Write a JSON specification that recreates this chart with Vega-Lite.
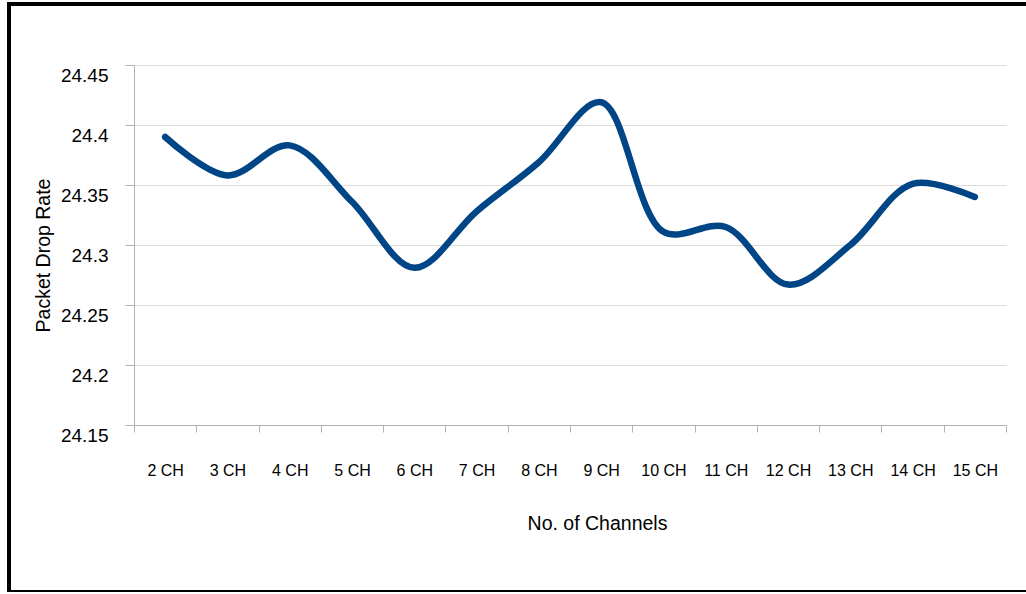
{
  "$schema": "https://vega.github.io/schema/vega-lite/v6.json",
  "autosize": "none",
  "padding": {"left": 9, "top": 4, "right": 0, "bottom": 0},
  "width": 1030,
  "height": 588,
  "background": "white",
  "config": {
    "font": "Liberation Sans",
    "view": {"stroke": "black", "strokeWidth": 4, "fill": "white"},
    "axis": {
      "domainColor": "#b3b3b3",
      "tickColor": "#b3b3b3",
      "gridColor": "#dddddd",
      "labelColor": "black",
      "titleColor": "black",
      "labelFont": "Liberation Sans",
      "titleFont": "Liberation Sans",
      "titleFontWeight": "normal"
    }
  },
  "data": {
    "values": [
      {"channels": "2 CH", "rate": 24.39},
      {"channels": "3 CH", "rate": 24.358},
      {"channels": "4 CH", "rate": 24.383},
      {"channels": "5 CH", "rate": 24.336},
      {"channels": "6 CH", "rate": 24.281},
      {"channels": "7 CH", "rate": 24.328},
      {"channels": "8 CH", "rate": 24.369},
      {"channels": "9 CH", "rate": 24.419},
      {"channels": "10 CH", "rate": 24.311},
      {"channels": "11 CH", "rate": 24.315},
      {"channels": "12 CH", "rate": 24.267},
      {"channels": "13 CH", "rate": 24.3},
      {"channels": "14 CH", "rate": 24.351},
      {"channels": "15 CH", "rate": 24.34}
    ]
  },
  "mark": {
    "type": "line",
    "interpolate": "catmull-rom",
    "color": "#004586",
    "strokeWidth": 6.5,
    "strokeCap": "round",
    "strokeJoin": "round"
  },
  "encoding": {
    "x": {
      "field": "channels",
      "type": "nominal",
      "sort": null,
      "scale": {"type": "band", "paddingInner": 0, "paddingOuter": 0, "range": [125, 997]},
      "axis": {
        "title": "No. of Channels",
        "titleFontSize": 19.5,
        "titleX": 588,
        "titleY": 98.5,
        "titleAlign": "center",
        "titleBaseline": "middle",
        "offset": -167,
        "labelAngle": 0,
        "labelFontSize": 16,
        "labelPadding": 30,
        "tickSize": 7,
        "tickBand": "extent",
        "grid": false,
        "domain": true
      }
    },
    "y": {
      "field": "rate",
      "type": "quantitative",
      "scale": {"domain": [24.15, 24.45], "nice": false, "zero": false, "range": [421, 61]},
      "axis": {
        "title": "Packet Drop Rate",
        "titleFontSize": 19.5,
        "titleX": -91,
        "titleY": 251,
        "titleAngle": 270,
        "titleAlign": "center",
        "titleBaseline": "middle",
        "offset": -125,
        "values": [24.15, 24.2, 24.25, 24.3, 24.35, 24.4, 24.45],
        "format": "~g",
        "labelFontSize": 19,
        "labelPadding": 17,
        "labelOffset": 10,
        "tickSize": 9,
        "grid": true,
        "domain": true
      }
    }
  }
}
